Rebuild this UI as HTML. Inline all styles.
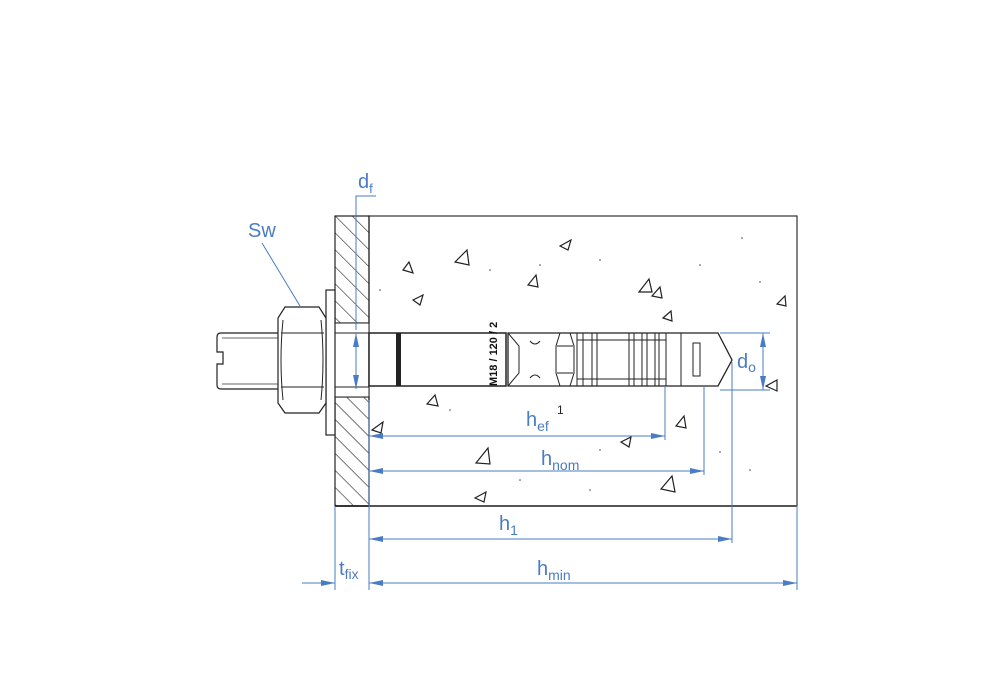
<!DOCTYPE html>
<html><head><meta charset="utf-8"><style>body{margin:0;background:#fff}svg{display:block}</style></head><body>
<svg width="1000" height="700" viewBox="0 0 1000 700" xmlns="http://www.w3.org/2000/svg" font-family="Liberation Sans, sans-serif">
<defs>
<pattern id="h" width="12" height="12" patternUnits="userSpaceOnUse" patternTransform="rotate(-45)"><line x1="0" y1="0" x2="0" y2="12" stroke="#222" stroke-width="1.2"/></pattern>
<marker id="a" markerWidth="14" markerHeight="8" refX="14" refY="4" orient="auto" markerUnits="userSpaceOnUse"><path d="M0,1 L14,4 L0,7z" fill="#4a7cc4"/></marker>
<marker id="s" markerWidth="14" markerHeight="8" refX="0" refY="4" orient="auto" markerUnits="userSpaceOnUse"><path d="M14,1 L0,4 L14,7z" fill="#4a7cc4"/></marker>
</defs>
<rect x="369" y="216" width="428" height="290" fill="#fff" stroke="#333" stroke-width="1.2"/>
<line x1="335" y1="506" x2="797" y2="506" stroke="#555" stroke-width="2"/>
<rect x="335" y="216" width="34" height="107" fill="url(#h)" stroke="#222" stroke-width="1.2"/>
<rect x="335" y="397" width="34" height="109" fill="url(#h)" stroke="#222" stroke-width="1.2"/>
<rect x="335" y="323" width="34" height="10" fill="#fff" stroke="#222"/>
<rect x="335" y="387" width="34" height="10" fill="#fff" stroke="#222"/>
<rect x="326" y="290" width="9" height="145" fill="#fff" stroke="#222" stroke-width="1.2"/>
<path d="M278,333 H221 Q217,333 217,337 V352 H223 V364 H217 V385 Q217,389 221,389 H278" fill="#fff" stroke="#222" stroke-width="1.2"/>
<line x1="222" y1="338" x2="278" y2="338" stroke="#666"/>
<line x1="222" y1="384" x2="278" y2="384" stroke="#666"/>
<path d="M285,307 H319 L326,318 V403 L319,413 H285 L278,403 V318z" fill="#fff" stroke="#222" stroke-width="1.2"/>
<line x1="281" y1="333" x2="324" y2="333" stroke="#222"/>
<line x1="281" y1="387" x2="324" y2="387" stroke="#222"/>
<path d="M283,320 Q279,360 283,400 M321,320 Q325,360 321,400" fill="none" stroke="#222"/>
<rect x="369" y="333" width="137" height="53" fill="#fff" stroke="#222" stroke-width="1.5"/>
<rect x="396" y="333" width="5" height="53" fill="#222"/>
<text transform="translate(497,386) rotate(-90)" font-size="11" font-weight="bold" fill="#111">M18 / 120 / 2</text>
<path d="M508,333 H718 L732,360 L718,386 H508z" fill="#fff" stroke="#222" stroke-width="1.3"/>
<path d="M508,333 L519,346 V373 L508,386" fill="none" stroke="#222"/>
<path d="M530,341 Q535,347 540,341 M530,378 Q535,372 540,378" fill="none" stroke="#222"/>
<path d="M560,333 L556,346 V373 L560,386 M570,333 L574,346 V373 L570,386" fill="none" stroke="#222"/>
<path d="M557,346 H573 M557,373 H573" stroke="#222"/>
<g stroke="#222" fill="none"><line x1="577" y1="333" x2="577" y2="386"/><line x1="583" y1="333" x2="583" y2="386"/><line x1="592" y1="333" x2="592" y2="386"/><line x1="597" y1="333" x2="597" y2="386"/><line x1="629" y1="333" x2="629" y2="386"/><line x1="634" y1="333" x2="634" y2="386"/><line x1="642" y1="333" x2="642" y2="386"/><line x1="647" y1="333" x2="647" y2="386"/><line x1="655" y1="333" x2="655" y2="386"/><line x1="659" y1="333" x2="659" y2="386"/><line x1="666" y1="333" x2="666" y2="386"/><line x1="681" y1="333" x2="681" y2="386"/>
<line x1="577" y1="340" x2="666" y2="340"/><line x1="577" y1="379" x2="666" y2="379"/><rect x="693" y="343" width="7" height="33"/></g>
<g fill="none" stroke="#222" stroke-width="1.2">
<path d="M455,262 L467,250 L469,265z"/><path d="M560,246 L571,240 L568,250z"/><path d="M403,270 L409,262 L413,273z"/><path d="M413,300 L423,295 L420,305z"/><path d="M528,285 L536,275 L538,287z"/><path d="M639,292 L649,279 L652,292z"/><path d="M652,296 L660,287 L662,298z"/><path d="M663,318 L671,311 L672,321z"/><path d="M777,304 L785,296 L786,306z"/><path d="M427,404 L435,395 L438,406z"/><path d="M372,430 L383,422 L381,433z"/><path d="M676,426 L684,416 L686,428z"/><path d="M621,442 L631,437 L629,447z"/><path d="M476,463 L488,448 L490,464z"/><path d="M661,489 L672,476 L675,492z"/><path d="M475,498 L486,492 L484,502z"/><path d="M766,386 L777,380 L777,391z"/>
</g>
<g fill="#444"><circle cx="540" cy="265" r=".8"/><circle cx="600" cy="260" r=".8"/><circle cx="742" cy="238" r=".8"/><circle cx="490" cy="270" r=".8"/><circle cx="700" cy="265" r=".8"/><circle cx="760" cy="282" r=".8"/><circle cx="450" cy="410" r=".8"/><circle cx="600" cy="450" r=".8"/><circle cx="520" cy="480" r=".8"/><circle cx="720" cy="452" r=".8"/><circle cx="590" cy="490" r=".8"/><circle cx="750" cy="470" r=".8"/><circle cx="380" cy="290" r=".8"/></g>
<g stroke="#4a7cc4" stroke-width="1" fill="none">
<polyline points="376,196 356,196 356,330"/>
<line x1="356" y1="333" x2="356" y2="389" marker-start="url(#s)" marker-end="url(#a)"/>
<line x1="300" y1="306" x2="262" y2="243"/>
<line x1="335" y1="506" x2="335" y2="590"/><line x1="369" y1="400" x2="369" y2="590"/>
<line x1="665" y1="386" x2="665" y2="440"/><line x1="704" y1="386" x2="704" y2="475"/><line x1="732" y1="362" x2="732" y2="543"/><line x1="797" y1="506" x2="797" y2="590"/>
<line x1="720" y1="333" x2="770" y2="333"/><line x1="720" y1="390" x2="770" y2="390"/>
<line x1="763" y1="333" x2="763" y2="390" marker-start="url(#s)" marker-end="url(#a)"/>
<line x1="369" y1="436" x2="665" y2="436" marker-start="url(#s)" marker-end="url(#a)"/>
<line x1="369" y1="471" x2="704" y2="471" marker-start="url(#s)" marker-end="url(#a)"/>
<line x1="369" y1="539" x2="732" y2="539" marker-start="url(#s)" marker-end="url(#a)"/>
<line x1="369" y1="583" x2="797" y2="583" marker-start="url(#s)" marker-end="url(#a)"/>
<line x1="302" y1="583" x2="335" y2="583" marker-end="url(#a)"/>
</g>
<g fill="#4a7cc4" font-size="20">
<text x="248" y="237">Sw</text>
<text x="358" y="188">d<tspan font-size="13" dy="5">f</tspan></text>
<text x="737" y="368">d<tspan font-size="14" dy="4">o</tspan></text>
<text x="526" y="426">h<tspan font-size="14" dy="5">ef</tspan></text>
<text x="541" y="465">h<tspan font-size="14" dy="5">nom</tspan></text>
<text x="499" y="530">h<tspan font-size="14" dy="5">1</tspan></text>
<text x="537" y="575">h<tspan font-size="14" dy="5">min</tspan></text>
<text x="339" y="575">t<tspan font-size="14" dy="4">fix</tspan></text>
</g>
<text x="557" y="414" font-size="12" fill="#222">1</text>
</svg>
</body></html>
